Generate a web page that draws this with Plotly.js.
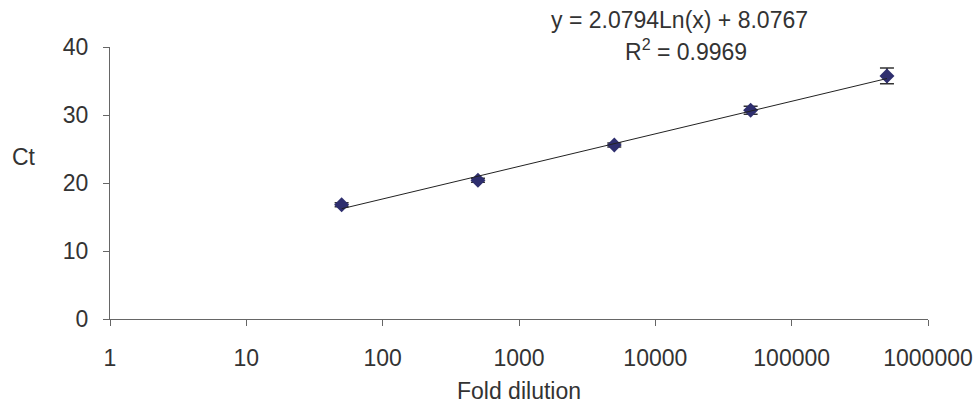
<!DOCTYPE html>
<html>
<head>
<meta charset="utf-8">
<script src="https://cdn.plot.ly/plotly-3.0.1.min.js"></script>
<style>html,body{margin:0;padding:0;background:#fff;}#chart{width:979px;height:408px;}</style>
</head>
<body>
<div id="chart"></div>
<script>
const dilutions = [50, 500, 5000, 50000, 500000];
const ctMeans = [16.8, 20.4, 25.6, 30.7, 35.75];
const ctErrors = [0.3, 0.3, 0.3, 0.6, 1.15];
const xTickVals = [1, 10, 100, 1000, 10000, 100000, 1000000];
const xTickText = ['1', '10', '100', '1000', '10000', '100000', '1000000'];
const yTickVals = [0, 10, 20, 30, 40];
const trendSlope = 2.0794;
const trendIntercept = 8.0767;
const rSquared = 0.9969;

const trendX = [dilutions[0], dilutions[dilutions.length - 1]];
const trendY = trendX.map(x => trendSlope * Math.log(x) + trendIntercept);

const font = {family: 'Liberation Sans, Arial, sans-serif', size: 23, color: '#333333'};

const traces = [
  {
    x: dilutions, y: ctMeans, type: 'scatter', mode: 'markers',
    marker: {symbol: 'diamond', size: 11.5, color: '#2e2e6e', line: {width: 0}},
    error_y: {type: 'data', array: ctErrors, visible: true, color: '#333333', thickness: 1.5, width: 7},
    showlegend: false, hoverinfo: 'skip'
  },
  {
    x: trendX, y: trendY, type: 'scatter', mode: 'lines',
    line: {color: '#222222', width: 1},
    showlegend: false, hoverinfo: 'skip'
  }
];

const T = 47, H = 272, L = 110, W = 818;
const px = x => (x - L) / W;
const py = y => (T + H - y) / H;

const layout = {
  width: 979, height: 408,
  margin: {l: L, r: 979 - L - W, t: T, b: 408 - T - H},
  paper_bgcolor: '#ffffff', plot_bgcolor: '#ffffff',
  font: font,
  showlegend: false,
  xaxis: {
    type: 'log', range: [0, 6],
    tickvals: xTickVals, ticktext: xTickText,
    ticks: 'outside', ticklen: 6, tickcolor: '#666666', tickwidth: 1,
    showline: true, linecolor: '#666666', linewidth: 1,
    showgrid: false, zeroline: false,
    ticklabelstandoff: 12,
    tickfont: font,
    title: {text: 'Fold dilution', font: font, standoff: 13}
  },
  yaxis: {
    range: [0, 40],
    tickvals: yTickVals,
    ticks: 'outside', ticklen: 6, tickcolor: '#666666', tickwidth: 1,
    showline: true, linecolor: '#666666', linewidth: 1,
    showgrid: false, zeroline: false,
    ticklabelstandoff: 10,
    tickfont: font
  },
  annotations: [
    {xref: 'paper', yref: 'paper', x: px(24), y: py(157), text: 'Ct', showarrow: false, font: font, xanchor: 'center', yanchor: 'middle'},
    {xref: 'paper', yref: 'paper', x: px(679), y: py(20), text: 'y = ' + trendSlope.toFixed(4) + 'Ln(x) + ' + trendIntercept.toFixed(4), showarrow: false, font: font, xanchor: 'center', yanchor: 'middle'},
    {xref: 'paper', yref: 'paper', x: px(686), y: py(50), text: 'R<sup>2</sup> = ' + rSquared.toFixed(4), showarrow: false, font: font, xanchor: 'center', yanchor: 'middle'}
  ]
};

Plotly.newPlot('chart', traces, layout, {displayModeBar: false, staticPlot: true});
</script>
</body>
</html>
